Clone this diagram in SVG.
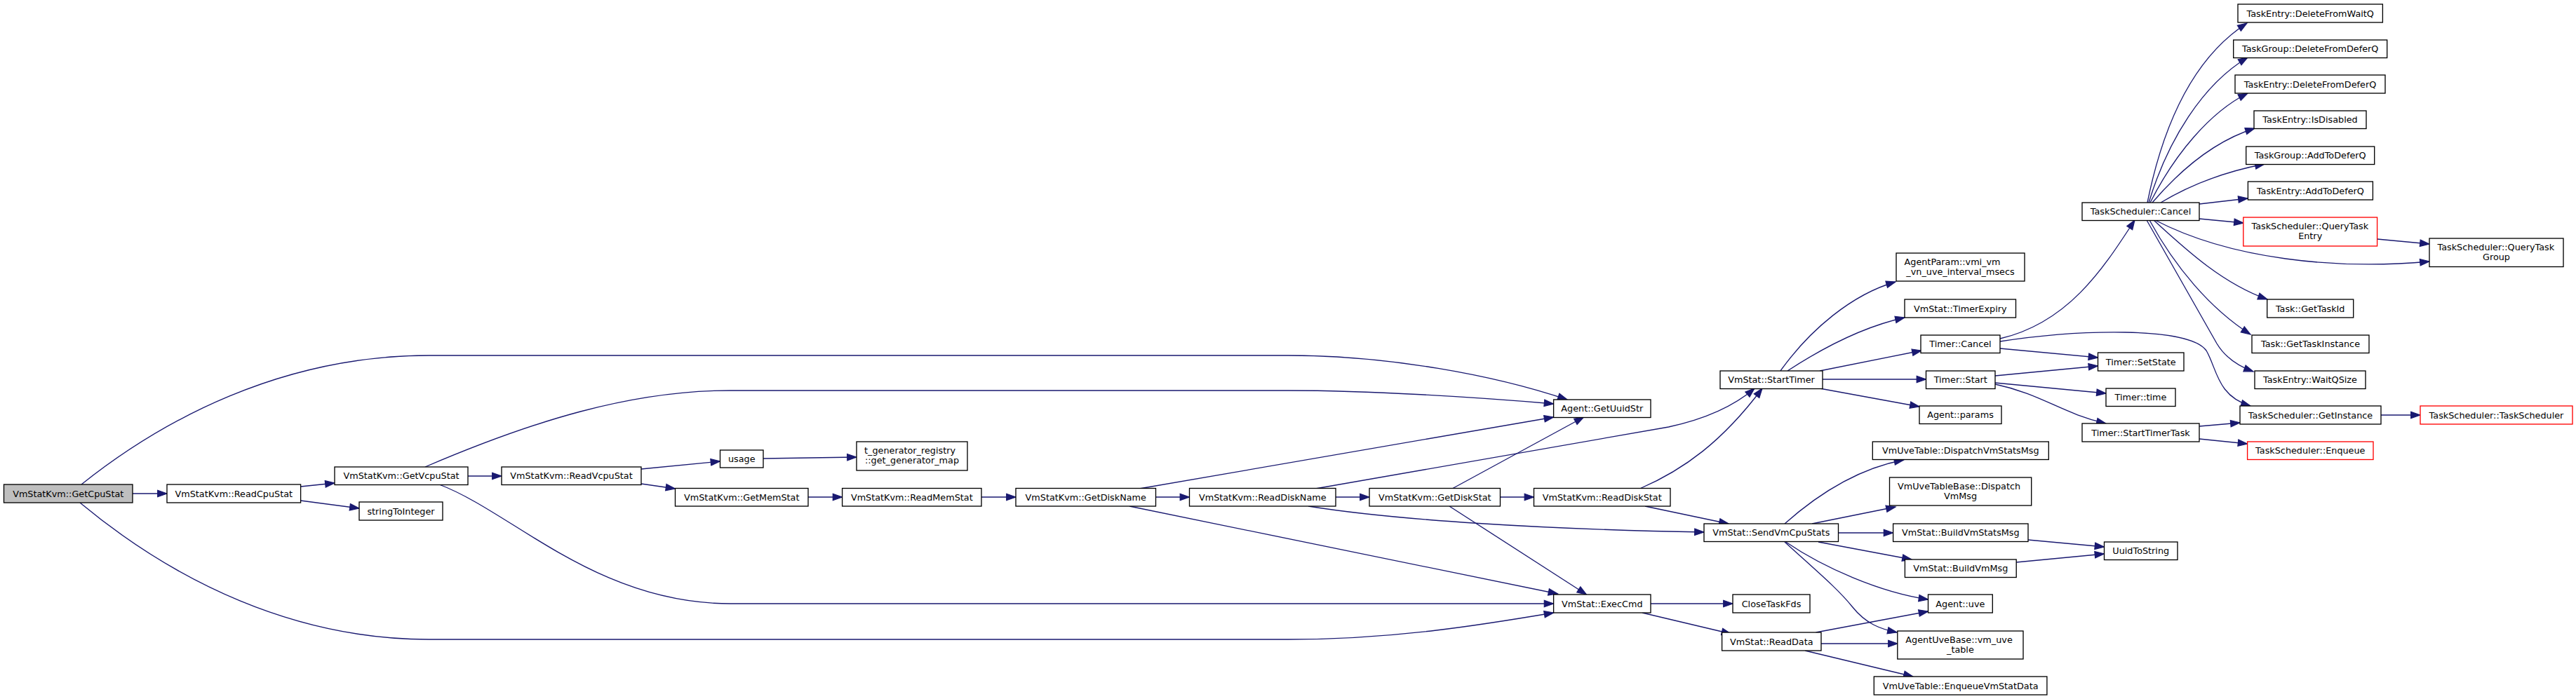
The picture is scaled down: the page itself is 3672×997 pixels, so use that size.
<svg xmlns="http://www.w3.org/2000/svg" width="3672" height="997" viewBox="0 0 3672 997">
<style>
.node rect{fill:#fff;stroke:#000;stroke-width:1.33}
.root rect{fill:#bfbfbf}
.red rect{stroke:#ff0000}
.node text{font-family:"DejaVu Sans","Liberation Sans",sans-serif;font-size:12.8px;text-anchor:middle;fill:#000}
.node text.l1{text-anchor:start}
.edge path{fill:none;stroke:#191970;stroke-width:1.33;marker-end:url(#arr)}
</style>
<defs>
<marker id="arr" markerUnits="userSpaceOnUse" markerWidth="16" markerHeight="12" refX="13.3" refY="4.7" orient="auto" overflow="visible">
<path d="M0,0 L13.3,4.7 L0,9.4 z" fill="#191970" stroke="#191970" stroke-width="1.2"/>
</marker>
</defs>
<rect width="3672" height="997" fill="#fff"/>
<g id="edges" class="edge">
<path d="M189,704 L238,704"/>
<path d="M116,691 C230,600 400,507 612,507 L1836,507 C1980,507 2130,535 2234,570"/>
<path d="M114,717 C250,830 420,912 612,912 L1836,912 C1990,912 2120,890 2214.6,874"/>
<path d="M428.6,694 L477,689"/>
<path d="M428.6,714 L512,725"/>
<path d="M667,679 L715,679"/>
<path d="M606,666 C760,600 900,557 1041,557 L1836,557 C1950,557 2100,566 2214.6,576"/>
<path d="M626,691 C730,730 850,861 1041,861 L2214.6,861"/>
<path d="M914,669 L1026.5,658"/>
<path d="M914,690 L962.5,697"/>
<path d="M1088,654 L1221,652"/>
<path d="M1152,709 L1200.6,709"/>
<path d="M1399,709 L1448,709"/>
<path d="M1647.5,709 L1695.5,709"/>
<path d="M1624,697 L2214.6,595"/>
<path d="M1610,722 L2220.5,847"/>
<path d="M1904,709 L1952,709"/>
<path d="M1875,697 L2378.5,609 C2420,600 2465,585 2501,554"/>
<path d="M2337.5,697 C2400,670 2455,630 2512,554"/>
<path d="M2138.5,709 L2186.5,709"/>
<path d="M2070,697 L2257.5,595"/>
<path d="M2066,722 L2261.5,848"/>
<path d="M2345,722 L2464,747"/>
<path d="M1865,722 C1990,742 2200,755 2429,759"/>
<path d="M2353,861 L2470,861"/>
<path d="M2341,874 L2467.5,904"/>
<path d="M2538,529 C2580,470 2640,420 2702,402"/>
<path d="M2548,529 C2600,495 2660,465 2715,453"/>
<path d="M2594,529 L2739,500"/>
<path d="M2598,541 L2745.5,541"/>
<path d="M2594,554 L2736,580"/>
<path d="M2851,483 C2950,460 3000,380 3043,314"/>
<path d="M2851,487 C2960,470 3120,465 3145,500 C3160,525 3160,565 3208,579"/>
<path d="M2851,497 L2990.5,510"/>
<path d="M2844,536 L2990.5,522"/>
<path d="M2844,546 L3002,561"/>
<path d="M2844,548 C2910,562 2940,590 3002,604"/>
<path d="M3135,608 L3193,603"/>
<path d="M3135,626 L3203.6,633"/>
<path d="M3394,592 L3450,592"/>
<path d="M2544,747 C2580,715 2640,670 2713.6,656"/>
<path d="M2583,747 L2702,723"/>
<path d="M2620.5,760 L2698.6,760"/>
<path d="M2592,773 L2725,798"/>
<path d="M2545.6,773 C2600,810 2680,845 2748.5,855"/>
<path d="M2544,773 C2590,815 2620,840 2640,865 C2660,890 2680,897 2704,902"/>
<path d="M2891,770 L2999.5,780"/>
<path d="M2874,802 L2999.5,790"/>
<path d="M2588.5,902 L2748.5,872"/>
<path d="M2596,918 L2705,918"/>
<path d="M2573,928 L2727,965"/>
<path d="M3388.6,341 L3463,348"/>
<path d="M3061,289 C3085,170 3130,80 3203,33"/>
<path d="M3063,289 C3090,200 3140,120 3204,82"/>
<path d="M3065,289 C3100,220 3150,160 3204,133"/>
<path d="M3068,289 C3110,240 3160,200 3214,183"/>
<path d="M3080,289 C3120,265 3170,245 3228,234"/>
<path d="M3135,291 L3204,283"/>
<path d="M3135,312 L3198,318"/>
<path d="M3072,314 C3180,370 3330,385 3463,373"/>
<path d="M3070,314 C3120,360 3170,405 3232,427"/>
<path d="M3064,314 C3100,380 3150,440 3208,477"/>
<path d="M3060,314 L3160,490 C3172,510 3190,522 3212,530"/>
</g>
<g id="n_GetCpuStat" class="node root"><rect x="5.5" y="691" width="183.5" height="26"/><text x="97.25" y="708.5">VmStatKvm::GetCpuStat</text></g>
<g id="n_ReadCpuStat" class="node"><rect x="238" y="691" width="190.6" height="26"/><text x="333.3" y="708.5">VmStatKvm::ReadCpuStat</text></g>
<g id="n_GetVcpuStat" class="node"><rect x="477" y="666" width="190" height="25.5"/><text x="572" y="683">VmStatKvm::GetVcpuStat</text></g>
<g id="n_stringToInteger" class="node"><rect x="512" y="716" width="119" height="26"/><text x="571.5" y="733.5">stringToInteger</text></g>
<g id="n_ReadVcpuStat" class="node"><rect x="715" y="666" width="199" height="25.5"/><text x="814.5" y="683">VmStatKvm::ReadVcpuStat</text></g>
<g id="n_usage" class="node"><rect x="1026.5" y="642" width="61.5" height="25"/><text x="1057.25" y="659">usage</text></g>
<g id="n_GetMemStat" class="node"><rect x="962.5" y="696.5" width="189.5" height="25.5"/><text x="1057.25" y="713.5">VmStatKvm::GetMemStat</text></g>
<g id="n_t_generator_registry" class="node"><rect x="1221" y="630" width="158" height="41"/><text class="l1" x="1232" y="646.5">t_generator_registry</text><text x="1300" y="661">::get_generator_map</text></g>
<g id="n_ReadMemStat" class="node"><rect x="1200.6" y="696.5" width="198.4" height="25.5"/><text x="1299.8" y="713.5">VmStatKvm::ReadMemStat</text></g>
<g id="n_GetDiskName" class="node"><rect x="1448" y="696.5" width="199.5" height="25.5"/><text x="1547.75" y="713.5">VmStatKvm::GetDiskName</text></g>
<g id="n_ReadDiskName" class="node"><rect x="1695.5" y="696.5" width="208.5" height="25.5"/><text x="1799.75" y="713.5">VmStatKvm::ReadDiskName</text></g>
<g id="n_GetUuidStr" class="node"><rect x="2214.6" y="570" width="138.4" height="25.5"/><text x="2283.8" y="587">Agent::GetUuidStr</text></g>
<g id="n_GetDiskStat" class="node"><rect x="1952" y="696.5" width="186.5" height="25.5"/><text x="2045.25" y="713.5">VmStatKvm::GetDiskStat</text></g>
<g id="n_ReadDiskStat" class="node"><rect x="2186.5" y="696.5" width="194.5" height="25.5"/><text x="2283.75" y="713.5">VmStatKvm::ReadDiskStat</text></g>
<g id="n_ExecCmd" class="node"><rect x="2214.6" y="848" width="138.4" height="26"/><text x="2283.8" y="865.5">VmStat::ExecCmd</text></g>
<g id="n_StartTimer" class="node"><rect x="2452" y="529" width="146" height="25.5"/><text x="2525" y="546">VmStat::StartTimer</text></g>
<g id="n_SendVmCpuStats" class="node"><rect x="2429" y="747" width="191.5" height="25.5"/><text x="2524.75" y="764">VmStat::SendVmCpuStats</text></g>
<g id="n_CloseTaskFds" class="node"><rect x="2470" y="848" width="110" height="26"/><text x="2525" y="865.5">CloseTaskFds</text></g>
<g id="n_ReadData" class="node"><rect x="2454.6" y="902" width="141.4" height="26"/><text x="2525.3" y="919.5">VmStat::ReadData</text></g>
<g id="n_AgentParam" class="node"><rect x="2703" y="361" width="183" height="40"/><text class="l1" x="2714.5" y="377.5">AgentParam::vmi_vm</text><text x="2794.5" y="392">_vn_uve_interval_msecs</text></g>
<g id="n_TimerExpiry" class="node"><rect x="2715" y="427" width="158.5" height="26"/><text x="2794.25" y="444.5">VmStat::TimerExpiry</text></g>
<g id="n_TimerCancel" class="node"><rect x="2738" y="478" width="113" height="25.5"/><text x="2794.5" y="495">Timer::Cancel</text></g>
<g id="n_TimerStart" class="node"><rect x="2745.5" y="529" width="98.5" height="25.5"/><text x="2794.75" y="546">Timer::Start</text></g>
<g id="n_AgentParams" class="node"><rect x="2736" y="579" width="117" height="25.5"/><text x="2794.5" y="596">Agent::params</text></g>
<g id="n_DispatchVmStatsMsg" class="node"><rect x="2669.3" y="630" width="251" height="25.5"/><text x="2794.8" y="647">VmUveTable::DispatchVmStatsMsg</text></g>
<g id="n_DispatchVmMsg" class="node"><rect x="2693.5" y="681" width="202.2" height="40"/><text class="l1" x="2705" y="697.5">VmUveTableBase::Dispatch</text><text x="2794.6" y="712">VmMsg</text></g>
<g id="n_BuildVmStatsMsg" class="node"><rect x="2698.6" y="747" width="192.4" height="25.5"/><text x="2794.8" y="764">VmStat::BuildVmStatsMsg</text></g>
<g id="n_BuildVmMsg" class="node"><rect x="2715.4" y="798" width="158.8" height="25.5"/><text x="2794.8" y="815">VmStat::BuildVmMsg</text></g>
<g id="n_AgentUve" class="node"><rect x="2748.5" y="848" width="91.8" height="26"/><text x="2794.4" y="865.5">Agent::uve</text></g>
<g id="n_VmUveTable" class="node"><rect x="2704.8" y="900" width="179.2" height="40"/><text class="l1" x="2716.3" y="916.5">AgentUveBase::vm_uve</text><text x="2794.4" y="931">_table</text></g>
<g id="n_EnqueueVmStatData" class="node"><rect x="2671.3" y="965" width="246.6" height="26"/><text x="2794.6" y="982.5">VmUveTable::EnqueueVmStatData</text></g>
<g id="n_TSCancel" class="node"><rect x="2968" y="289" width="167" height="25.5"/><text x="3051.5" y="306">TaskScheduler::Cancel</text></g>
<g id="n_SetState" class="node"><rect x="2990.5" y="503" width="122.5" height="26"/><text x="3051.75" y="520.5">Timer::SetState</text></g>
<g id="n_TimerTime" class="node"><rect x="3002" y="554" width="99" height="25.5"/><text x="3051.5" y="571">Timer::time</text></g>
<g id="n_StartTimerTask" class="node"><rect x="2968" y="604" width="167" height="26"/><text x="3051.5" y="621.5">Timer::StartTimerTask</text></g>
<g id="n_UuidToString" class="node"><rect x="2999.5" y="773" width="104.5" height="25.5"/><text x="3051.75" y="790">UuidToString</text></g>
<g id="n_DeleteFromWaitQ" class="node"><rect x="3190" y="6" width="206.4" height="26"/><text x="3293.2" y="23.5">TaskEntry::DeleteFromWaitQ</text></g>
<g id="n_TGDeleteFromDeferQ" class="node"><rect x="3183.7" y="57" width="219" height="25.5"/><text x="3293.2" y="74">TaskGroup::DeleteFromDeferQ</text></g>
<g id="n_TEDeleteFromDeferQ" class="node"><rect x="3186" y="107" width="214" height="26"/><text x="3293" y="124.5">TaskEntry::DeleteFromDeferQ</text></g>
<g id="n_IsDisabled" class="node"><rect x="3213" y="158" width="160" height="25.5"/><text x="3293" y="175">TaskEntry::IsDisabled</text></g>
<g id="n_TGAddToDeferQ" class="node"><rect x="3201.7" y="209" width="183" height="25.5"/><text x="3293.2" y="226">TaskGroup::AddToDeferQ</text></g>
<g id="n_TEAddToDeferQ" class="node"><rect x="3204.4" y="259" width="178" height="26"/><text x="3293.4" y="276.5">TaskEntry::AddToDeferQ</text></g>
<g id="n_QueryTaskEntry" class="node red"><rect x="3197.8" y="310" width="190.8" height="41"/><text class="l1" x="3209.5" y="326.5">TaskScheduler::QueryTask</text><text x="3293.2" y="341">Entry</text></g>
<g id="n_QueryTaskGroup" class="node"><rect x="3463" y="340" width="191" height="40.5"/><text class="l1" x="3474.5" y="356.5">TaskScheduler::QueryTask</text><text x="3558.5" y="371">Group</text></g>
<g id="n_GetTaskId" class="node"><rect x="3231.7" y="427" width="123" height="26"/><text x="3293.2" y="444.5">Task::GetTaskId</text></g>
<g id="n_GetTaskInstance" class="node"><rect x="3210" y="478" width="167" height="25.5"/><text x="3293.5" y="495">Task::GetTaskInstance</text></g>
<g id="n_WaitQSize" class="node"><rect x="3214" y="529" width="158" height="25.5"/><text x="3293" y="546">TaskEntry::WaitQSize</text></g>
<g id="n_GetInstance" class="node"><rect x="3193" y="579" width="201" height="26"/><text x="3293.5" y="596.5">TaskScheduler::GetInstance</text></g>
<g id="n_TaskScheduler" class="node red"><rect x="3450" y="579" width="217" height="26"/><text x="3558.5" y="596.5">TaskScheduler::TaskScheduler</text></g>
<g id="n_Enqueue" class="node red"><rect x="3203.6" y="630" width="179.4" height="25.5"/><text x="3293.3" y="647">TaskScheduler::Enqueue</text></g>
</svg>
